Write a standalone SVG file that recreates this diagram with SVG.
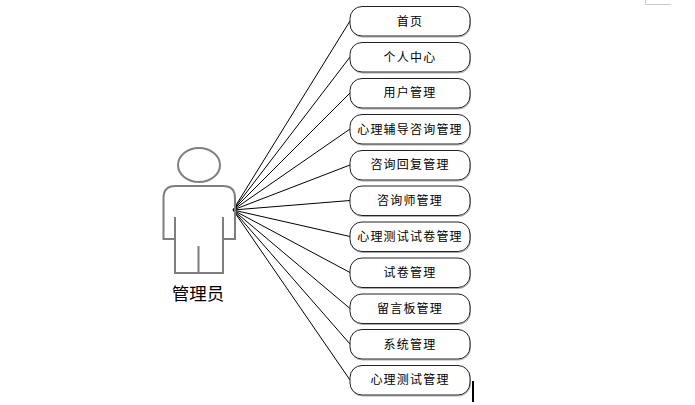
<svg xmlns="http://www.w3.org/2000/svg" width="695" height="405" viewBox="0 0 695 405">
<style>
.box{fill:#fff;stroke:#222;stroke-width:1}
.shadow{fill:none;stroke:#aaa;stroke-width:1}
.t{font-family:"Noto Sans CJK SC","Noto Sans",sans-serif;font-size:12px;letter-spacing:1.2px;text-anchor:middle;fill:#000}
.c line{stroke:#000;stroke-width:1}
.p{fill:none;stroke:#7f7f7f;stroke-width:2}
</style>
<defs><rect id="s" class="shadow" x="350.500" y="1" width="120" height="29.500" rx="12"/></defs>
<rect width="695" height="405" fill="#fff"/>
<path d="M645.500 0V4.500H671" fill="none" stroke="#c8c8c8" stroke-width="1"/>
<g id="connectors" class="c">
<line x1="233" y1="210" x2="350" y2="21"/>
<line x1="233" y1="210" x2="350" y2="57"/>
<line x1="233" y1="210" x2="350" y2="93"/>
<line x1="233" y1="210" x2="350" y2="129"/>
<line x1="233" y1="210" x2="350" y2="165"/>
<line x1="233" y1="210" x2="350" y2="200.500"/>
<line x1="233" y1="210" x2="350" y2="236.500"/>
<line x1="233" y1="210" x2="350" y2="272.500"/>
<line x1="233" y1="210" x2="350" y2="308.500"/>
<line x1="233" y1="210" x2="350" y2="344"/>
<line x1="233" y1="210" x2="350" y2="380"/>
</g>
<g id="actor">
<ellipse class="p" cx="199" cy="165" rx="21" ry="17"/>
<path class="p" d="M175 217V239H163.500V198Q163.500 186 175.500 186H223Q235 186 235 198V239H223V217M175 239V273H223V239M198.500 246V273"/>
<text x="198" y="299.500" font-family="'Noto Sans CJK SC',sans-serif" font-size="17.500" text-anchor="middle" fill="#000">管理员</text>
</g>
<g id="n1"><use href="#s" y="6.500"/><rect class="box" x="350" y="6.500" width="120" height="29.500" rx="12"/><text class="t" x="410" y="25.500">首页</text></g>
<g id="n2"><use href="#s" y="42.500"/><rect class="box" x="350" y="42.500" width="120" height="29.500" rx="12"/><text class="t" x="410" y="61.500">个人中心</text></g>
<g id="n3"><use href="#s" y="78.500"/><rect class="box" x="350" y="78.500" width="120" height="29.500" rx="12"/><text class="t" x="410" y="97">用户管理</text></g>
<g id="n4"><use href="#s" y="114.500"/><rect class="box" x="350" y="114.500" width="120" height="29.500" rx="12"/><text class="t" x="410" y="133.500">心理辅导咨询管理</text></g>
<g id="n5"><use href="#s" y="150.500"/><rect class="box" x="350" y="150.500" width="120" height="29.500" rx="12"/><text class="t" x="410" y="169">咨询回复管理</text></g>
<g id="n6"><use href="#s" y="186"/><rect class="box" x="350" y="186" width="120" height="29.500" rx="12"/><text class="t" x="410" y="205">咨询师管理</text></g>
<g id="n7"><use href="#s" y="222"/><rect class="box" x="350" y="222" width="120" height="29.500" rx="12"/><text class="t" x="410" y="241">心理测试试卷管理</text></g>
<g id="n8"><use href="#s" y="258"/><rect class="box" x="350" y="258" width="120" height="29.500" rx="12"/><text class="t" x="410" y="277">试卷管理</text></g>
<g id="n9"><use href="#s" y="294"/><rect class="box" x="350" y="294" width="120" height="29.500" rx="12"/><text class="t" x="410" y="313">留言板管理</text></g>
<g id="n10"><use href="#s" y="329.500"/><rect class="box" x="350" y="329.500" width="120" height="29.500" rx="12"/><text class="t" x="410" y="349">系统管理</text></g>
<g id="n11"><use href="#s" y="365.500"/><rect class="box" x="350" y="365.500" width="120" height="29.500" rx="12"/><text class="t" x="410" y="384">心理测试管理</text></g>
<line x1="473" y1="381" x2="473" y2="402" stroke="#000" stroke-width="2"/>
</svg>
